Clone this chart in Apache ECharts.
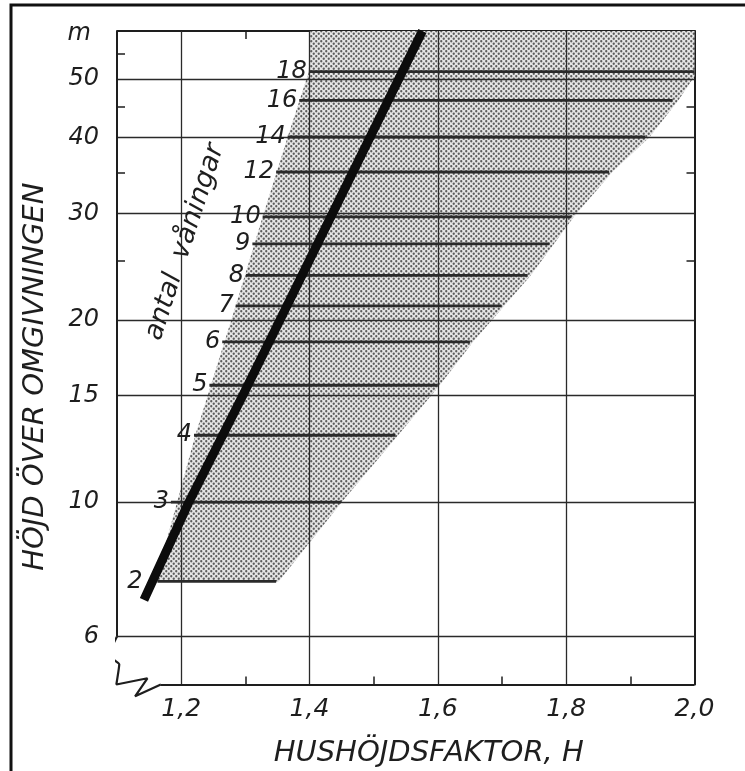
<!DOCTYPE html>
<html>
<head>
<meta charset="utf-8">
<script src="https://cdn.jsdelivr.net/npm/echarts@6/dist/echarts.min.js"></script>
<style>
html,body{margin:0;padding:0;background:#fff;overflow:hidden;}
#chart{width:745px;height:771px;}
</style>
</head>
<body>
<div id="chart"></div>
<script>
// ---- data ----
const floors        = [2, 3, 4, 5, 6, 7, 8, 9, 10, 12, 14, 16, 18];
const floorHeights  = [7.4, 10, 12.9, 15.6, 18.4, 21.1, 23.7, 26.7, 29.6, 35.1, 40.1, 46.1, 51.4];
const floorStartH   = [1.163, 1.184, 1.220, 1.244, 1.264, 1.285, 1.301, 1.311, 1.327, 1.348, 1.366, 1.384, 1.399];
const floorEndH     = [1.348, 1.449, 1.534, 1.600, 1.650, 1.699, 1.740, 1.774, 1.808, 1.867, 1.923, 1.966, 2.0];

const curveH        = [1.142, 1.212, 1.296, 1.436, 1.576];
const curveHeight   = [6.9, 10, 15, 30, 60];

const shadeH        = [1.160, 1.222, 1.285, 1.327, 1.366, 1.399, 1.400, 2.0, 2.0, 1.975, 1.930, 1.872, 1.812, 1.745, 1.655, 1.603, 1.538, 1.450, 1.352];
const shadeHeight   = [7.4, 12.9, 21.1, 29.6, 40.1, 51.4, 60, 60, 50.5, 46.1, 40.1, 35.1, 29.6, 23.7, 18.4, 15.6, 12.9, 10, 7.4];

const xGridValues   = [1.2, 1.4, 1.6, 1.8];
const yGridValues   = [6, 10, 15, 20, 30, 40, 50];
const xLabelValues  = [1.2, 1.4, 1.6, 1.8, 2.0];
const xMinorTicks   = [1.3, 1.5, 1.7, 1.9];
const yLabelValues  = [6, 10, 15, 20, 30, 40, 50, 60];
const yMinorTicks   = [25, 35, 45, 55];

const breakH        = [1.1, 1.087, 1.1035, 1.099, 1.1474, 1.1282, 1.1683];
const breakHeight   = [6, 5.58, 5.40, 5.0, 5.12, 4.78, 5.0];

// ---- styling ----
const INK = '#1e1e1e';
const FONT = '"DejaVu Sans"';

// staggered dot screen pattern (period 5 px, rows offset by half a period)
const tile = document.createElement('canvas');
tile.width = 10; tile.height = 10;
const tctx = tile.getContext('2d');
tctx.fillStyle = '#e6e6e6'; tctx.fillRect(0, 0, 10, 10);
tctx.fillStyle = '#5c5c5c';
for (let j = 0; j < 4; j++) {
  for (let i = 0; i < 2; i++) {
    tctx.beginPath();
    tctx.arc(i * 5 + 1.25 + (j % 2) * 2.5, j * 2.5 + 1.25, 1.15, 0, Math.PI * 2);
    tctx.fill();
  }
}

const chart = echarts.init(document.getElementById('chart'), null, {renderer: 'canvas', width: 745, height: 771});

// pixel x of the heavy curve at a given height (linear interpolation in pixel space)
function curvePixelX(api, height) {
  const pts = curveH.map((h, i) => api.coord([h, curveHeight[i]]));
  const py = api.coord([1.5, height])[1];
  for (let i = 0; i < pts.length - 1; i++) {
    const a = pts[i], b = pts[i + 1];
    if ((py <= a[1] && py >= b[1]) || (py >= a[1] && py <= b[1])) {
      const t = (py - a[1]) / (b[1] - a[1]);
      return a[0] + t * (b[0] - a[0]);
    }
  }
  return Infinity;
}

const option = {
  animation: false,
  backgroundColor: '#fff',
  grid: {left: 117, right: 50.5, top: 31, bottom: 86.5, containLabel: false, outerBoundsMode: 'none'},
  xAxis: [
    {
      type: 'value', position: 'bottom', min: 1.1, max: 2.0, interval: 0.1,
      axisLine: {show: false},
      axisTick: {show: true, inside: true, length: 8, customValues: xMinorTicks,
                 lineStyle: {color: INK, width: 1.5}},
      axisLabel: {show: true, customValues: xLabelValues, margin: 12,
                  formatter: v => v.toFixed(1).replace('.', ','),
                  fontFamily: FONT, fontStyle: 'italic', fontSize: 25, color: INK},
      splitLine: {show: false},
      name: 'HUSHÖJDSFAKTOR, H', nameLocation: 'middle', nameGap: 54,
      nameTextStyle: {fontFamily: FONT, fontStyle: 'italic', fontSize: 29, color: INK,
                      padding: [0, 0, 0, 46]}
    },
    {
      type: 'value', position: 'top', min: 1.1, max: 2.0, interval: 0.1,
      axisLine: {show: true, lineStyle: {color: INK, width: 2}},
      axisTick: {show: true, inside: true, length: 8, customValues: xMinorTicks,
                 lineStyle: {color: INK, width: 1.5}},
      axisLabel: {show: false},
      splitLine: {show: false}
    }
  ],
  yAxis: [
    {
      type: 'log', logBase: 10, position: 'left', min: 5, max: 60,
      axisLine: {show: false},
      axisTick: {show: true, inside: true, length: 8, customValues: yMinorTicks,
                 lineStyle: {color: INK, width: 1.5}},
      axisLabel: {show: true, customValues: yLabelValues, margin: 18,
                  formatter: v => (Math.round(v) === 60 ? '{m|m}' : String(Math.round(v))),
                  fontFamily: FONT, fontStyle: 'italic', fontSize: 24, color: INK,
                  rich: {m: {fontFamily: FONT, fontStyle: 'italic', fontSize: 24, color: INK, padding: [6, 8, 0, 0]}}},
      splitLine: {show: false},
      minorTick: {show: false},
      name: 'HÖJD ÖVER OMGIVNINGEN', nameLocation: 'middle', nameGap: 67,
      nameTextStyle: {fontFamily: FONT, fontStyle: 'italic', fontSize: 29, color: INK,
                      padding: [0, 38, 0, 0]}
    },
    {
      type: 'log', logBase: 10, position: 'right', min: 5, max: 60,
      axisLine: {show: true, lineStyle: {color: INK, width: 2}},
      axisTick: {show: true, inside: true, length: 8, customValues: yMinorTicks,
                 lineStyle: {color: INK, width: 1.5}},
      axisLabel: {show: false},
      splitLine: {show: false},
      minorTick: {show: false}
    }
  ],
  series: [
    {
      // dotted region
      type: 'custom', name: 'shade', z: 1,
      xAxisIndex: 0, yAxisIndex: 0,
      data: shadeH.map((h, i) => [h, shadeHeight[i]]),
      encode: {x: 0, y: 1},
      renderItem: function (params, api) {
        if (params.dataIndex !== 0) return null;
        const pts = shadeH.map((h, i) => api.coord([h, shadeHeight[i]]));
        return {
          type: 'polygon',
          shape: {points: pts},
          style: {fill: {image: tile, repeat: 'repeat'}, stroke: null}
        };
      },
      silent: true,
      markLine: {
        silent: true, symbol: ['none', 'none'], label: {show: false},
        lineStyle: {color: '#2a2a2a', width: 1.3, type: 'solid'},
        emphasis: {disabled: true},
        data: [
          ...xGridValues.map(v => ({xAxis: v})),
          ...yGridValues.map(v => ({yAxis: v})),
          [{coord: [1.1, 6], lineStyle: {width: 2, color: INK}}, {coord: [1.1, 60]}],
          [{coord: [breakH[breakH.length - 1], 5], lineStyle: {width: 2, color: INK}}, {coord: [2.0, 5]}]
        ]
      }
    },
    {
      // axis break mark
      type: 'line', name: 'break', z: 6, clip: false,
      data: breakH.map((h, i) => [h, breakHeight[i]]),
      showSymbol: false, symbol: 'none', smooth: 0.15,
      lineStyle: {color: INK, width: 2.2},
      silent: true
    },
    {
      // floor lines with their labels
      type: 'custom', name: 'floors', z: 7,
      data: floors.map((f, i) => [floorStartH[i], floorEndH[i], floorHeights[i], f]),
      encode: {x: [0, 1], y: 2},
      renderItem: function (params, api) {
        const y = api.value(2);
        const p1 = api.coord([api.value(0), y]);
        const p2 = api.coord([api.value(1), y]);
        const labelX = Math.min(p1[0] - 2, curvePixelX(api, y) - 10);
        return {
          type: 'group',
          children: [
            {type: 'line', shape: {x1: p1[0], y1: p1[1], x2: p2[0], y2: p2[1]},
             style: {stroke: '#2a2a2a', lineWidth: 2.8}},
            {type: 'text', x: labelX, y: p1[1],
             style: {text: String(api.value(3)), textAlign: 'right', textVerticalAlign: 'middle',
                     font: 'italic 24px ' + FONT, fill: INK}}
          ]
        };
      },
      silent: true
    },
    {
      // heavy black curve
      type: 'line', name: 'H', z: 8,
      data: curveH.map((h, i) => [h, curveHeight[i]]),
      showSymbol: false, symbol: 'none', smooth: false,
      lineStyle: {color: '#0c0c0c', width: 9, cap: 'butt', join: 'round'},
      silent: true
    }
  ],
  graphic: [
    {type: 'rect', shape: {x: 11, y: 5, width: 800, height: 800},
     style: {fill: 'none', stroke: '#111', lineWidth: 3}, silent: true, z: 100},
    {type: 'text', x: 185, y: 242, rotation: 72 * Math.PI / 180,
     style: {text: 'antal  våningar', font: 'italic 27px ' + FONT, fill: INK,
             textAlign: 'center', textVerticalAlign: 'middle'}, silent: true, z: 100}
  ]
};

chart.setOption(option);
</script>
</body>
</html>
